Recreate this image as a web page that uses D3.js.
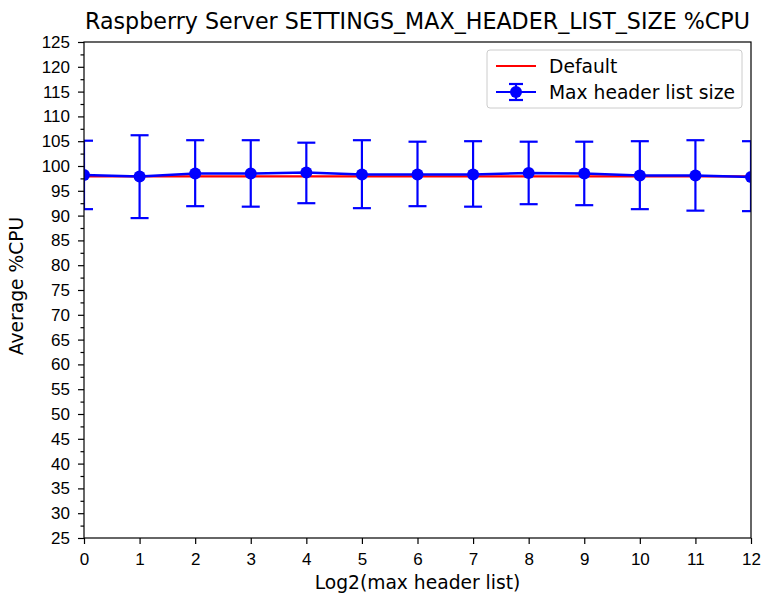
<!DOCTYPE html>
<html lang="en">
<head>
<meta charset="UTF-8">
<title>Raspberry Server SETTINGS_MAX_HEADER_LIST_SIZE %CPU</title>
<script src="https://d3js.org/d3.v7.min.js"></script>
<style>
  body { margin: 0; background: #fff; }
  svg { font-family: "DejaVu Sans", sans-serif; }
  .tick text { font-size: 17px; fill: #000; }
  .tick line { stroke: #000; stroke-width: 1.2px; }
  .domain { display: none; }
</style>
</head>
<body>
<svg width="762" height="594"></svg>
<script>
// data
var xValues = [0, 1, 2, 3, 4, 5, 6, 7, 8, 9, 10, 11, 12];
var defaultCpu = [97.9, 97.9, 97.9, 97.9, 97.9, 97.9, 97.9, 97.9, 97.9, 97.9, 97.9, 97.9, 97.9];
var headerCpu = [98.2, 97.9, 98.5, 98.5, 98.7, 98.3, 98.3, 98.3, 98.6, 98.5, 98.1, 98.1, 97.8];
var errTop = [105.1, 106.2, 105.2, 105.2, 104.7, 105.2, 104.9, 105.0, 104.9, 104.9, 105.0, 105.2, 105.0];
var errBottom = [91.3, 89.5, 91.9, 91.8, 92.5, 91.5, 91.9, 91.8, 92.3, 92.1, 91.3, 91.0, 90.9];
var yTicks = d3.range(25, 126, 5);
var yMinorTicks = d3.range(27.5, 125, 5);

var svg = d3.select('svg');
var plotLeft = 84, plotRight = 751, plotTop = 42, plotBottom = 538;

var x = d3.scaleLinear().domain([0, 12]).range([plotLeft, plotRight]);
var y = d3.scaleLinear().domain([25, 125]).range([plotBottom, plotTop]);

// axes
svg.append('g')
    .attr('transform', 'translate(0,' + plotBottom + ')')
    .call(d3.axisBottom(x).tickValues(xValues).tickSize(6).tickPadding(9).tickFormat(d3.format('d')));

svg.append('g')
    .attr('transform', 'translate(' + plotLeft + ',0)')
    .call(d3.axisLeft(y).tickValues(yTicks).tickSize(6).tickPadding(8).tickFormat(d3.format('d')));

svg.append('g')
    .attr('transform', 'translate(' + plotLeft + ',0)')
    .call(d3.axisLeft(y).tickValues(yMinorTicks).tickSize(3.5).tickFormat(''));

var series = xValues.map(function(d, i){
    return {x: d, v: headerCpu[i], hi: errTop[i], lo: errBottom[i], def: defaultCpu[i]};
});

// default line
svg.append('path')
    .datum(series)
    .attr('fill', 'none')
    .attr('stroke', '#ff0000')
    .attr('stroke-width', 2.2)
    .attr('d', d3.line().x(function(d){ return x(d.x); }).y(function(d){ return y(d.def); }));

var plot = svg.append('g');
plot.append('clipPath').attr('id', 'clip')
    .append('rect').attr('x', plotLeft).attr('y', plotTop)
    .attr('width', plotRight - plotLeft).attr('height', plotBottom - plotTop);

var eb = plot.append('g').attr('clip-path', 'url(#clip)');

// error bars
eb.selectAll('line.err')
    .data(series).enter()
    .append('line')
    .attr('x1', function(d){ return x(d.x); })
    .attr('x2', function(d){ return x(d.x); })
    .attr('y1', function(d){ return y(d.hi); })
    .attr('y2', function(d){ return y(d.lo); })
    .attr('stroke', '#0000ff').attr('stroke-width', 2.2);

['hi', 'lo'].forEach(function(k){
    eb.selectAll('line.cap-' + k)
        .data(series).enter()
        .append('line')
        .attr('x1', function(d){ return x(d.x) - 9; })
        .attr('x2', function(d){ return x(d.x) + 9; })
        .attr('y1', function(d){ return y(d[k]); })
        .attr('y2', function(d){ return y(d[k]); })
        .attr('stroke', '#0000ff').attr('stroke-width', 2.2);
});

eb.append('path')
    .datum(series)
    .attr('fill', 'none')
    .attr('stroke', '#0000ff')
    .attr('stroke-width', 2.5)
    .attr('d', d3.line().x(function(d){ return x(d.x); }).y(function(d){ return y(d.v); }));

eb.selectAll('circle')
    .data(series).enter()
    .append('circle')
    .attr('cx', function(d){ return x(d.x); })
    .attr('cy', function(d){ return y(d.v); })
    .attr('r', 6)
    .attr('fill', '#0000ff');

// frame
svg.append('rect')
    .attr('x', plotLeft).attr('y', plotTop)
    .attr('width', plotRight - plotLeft).attr('height', plotBottom - plotTop)
    .attr('fill', 'none').attr('stroke', '#000').attr('stroke-width', 1.2);

// title and labels
svg.append('text')
    .attr('x', (plotLeft + plotRight) / 2).attr('y', 29)
    .attr('text-anchor', 'middle')
    .style('font-size', '22.2px')
    .text('Raspberry Server SETTINGS_MAX_HEADER_LIST_SIZE %CPU');

svg.append('text')
    .attr('x', (plotLeft + plotRight) / 2).attr('y', 589)
    .attr('text-anchor', 'middle')
    .style('font-size', '18.7px')
    .text('Log2(max header list)');

svg.append('text')
    .attr('transform', 'translate(23,' + ((plotTop + plotBottom) / 2 - 4) + ') rotate(-90)')
    .attr('text-anchor', 'middle')
    .style('font-size', '18.7px')
    .text('Average %CPU');

// legend
var lg = svg.append('g').attr('transform', 'translate(487,50)');
lg.append('rect')
    .attr('width', 255).attr('height', 58).attr('rx', 3)
    .attr('fill', '#fff').attr('fill-opacity', 0.8)
    .attr('stroke', '#ccc');
lg.append('line').attr('x1', 9).attr('x2', 49).attr('y1', 16).attr('y2', 16)
    .attr('stroke', '#ff0000').attr('stroke-width', 2.2);
lg.append('text').attr('x', 62).attr('y', 23).style('font-size', '18.7px').text('Default');
lg.append('line').attr('x1', 9).attr('x2', 49).attr('y1', 42).attr('y2', 42)
    .attr('stroke', '#0000ff').attr('stroke-width', 2.2);
lg.append('line').attr('x1', 29).attr('x2', 29).attr('y1', 34).attr('y2', 50)
    .attr('stroke', '#0000ff').attr('stroke-width', 2.2);
lg.append('line').attr('x1', 22).attr('x2', 36).attr('y1', 34).attr('y2', 34)
    .attr('stroke', '#0000ff').attr('stroke-width', 2.2);
lg.append('line').attr('x1', 22).attr('x2', 36).attr('y1', 50).attr('y2', 50)
    .attr('stroke', '#0000ff').attr('stroke-width', 2.2);
lg.append('circle').attr('cx', 29).attr('cy', 42).attr('r', 6).attr('fill', '#0000ff');
lg.append('text').attr('x', 62).attr('y', 49).style('font-size', '18.7px').text('Max header list size');
</script>
</body>
</html>
